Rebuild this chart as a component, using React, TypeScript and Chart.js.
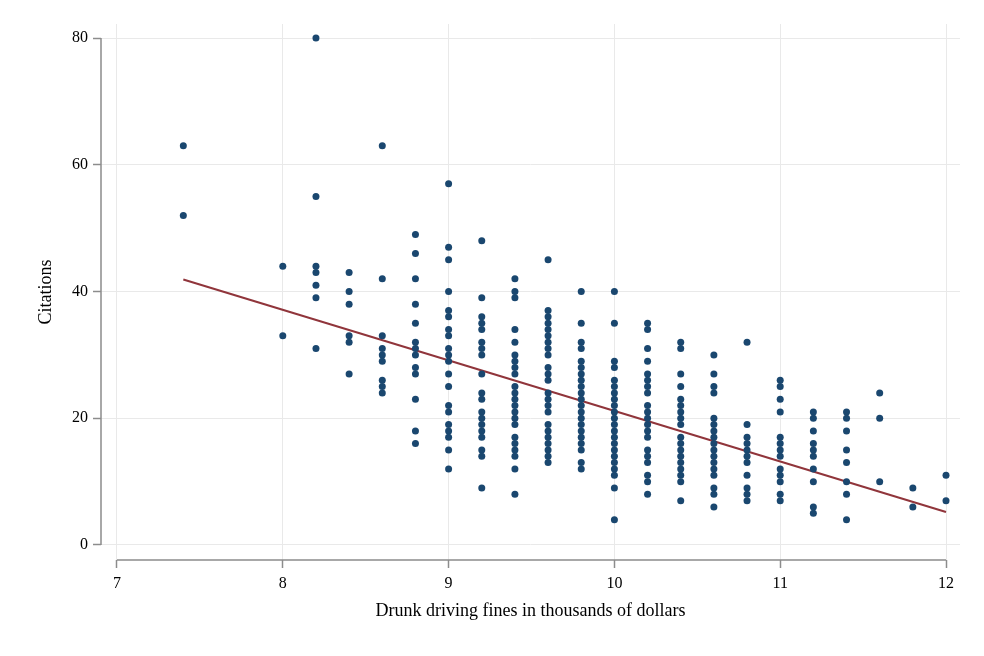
import React, { useEffect, useRef } from "react";
import { Chart, registerables } from "chart.js";

Chart.register(...registerables);

// Drunk driving fine levels (thousands of dollars)
const fineLevels = [7.4, 8.0, 8.2, 8.4, 8.6, 8.8, 9.0, 9.2, 9.4, 9.6, 9.8, 10.0, 10.2, 10.4, 10.6, 10.8, 11.0, 11.2, 11.4, 11.6, 11.8, 12.0];

// Citations observed at each fine level (same order as fineLevels)
const citations74 = [63, 52];
const citations80 = [44, 33];
const citations82 = [80, 55, 44, 43, 41, 39, 31];
const citations84 = [43, 40, 38, 33, 32, 27];
const citations86 = [63, 42, 33, 31, 30, 29, 26, 25, 24];
const citations88 = [49, 46, 42, 38, 35, 32, 31, 30, 28, 27, 23, 18, 16];
const citations90 = [57, 47, 45, 40, 37, 36, 34, 33, 31, 30, 29, 27, 25, 22, 21, 19, 18, 17, 15, 12];
const citations92 = [48, 39, 36, 35, 34, 32, 31, 30, 27, 24, 23, 21, 20, 19, 18, 17, 15, 14, 9];
const citations94 = [42, 40, 39, 34, 32, 30, 29, 28, 27, 25, 24, 23, 22, 21, 20, 19, 17, 16, 15, 14, 12, 8];
const citations96 = [45, 37, 36, 35, 34, 33, 32, 31, 30, 28, 27, 26, 24, 23, 22, 21, 19, 18, 17, 16, 15, 14, 13];
const citations98 = [40, 35, 32, 31, 29, 28, 27, 26, 25, 24, 23, 22, 21, 20, 19, 18, 17, 16, 15, 13, 12];
const citations100 = [40, 35, 29, 28, 26, 25, 24, 23, 22, 21, 20, 19, 18, 17, 16, 15, 14, 13, 12, 11, 9, 4];
const citations102 = [35, 34, 31, 29, 27, 26, 25, 24, 22, 21, 20, 19, 18, 17, 15, 14, 13, 11, 10, 8];
const citations104 = [32, 31, 27, 25, 23, 22, 21, 20, 19, 17, 16, 15, 14, 13, 12, 11, 10, 7];
const citations106 = [30, 27, 25, 24, 20, 19, 18, 17, 16, 15, 14, 13, 12, 11, 9, 8, 6];
const citations108 = [32, 19, 17, 16, 15, 14, 13, 11, 9, 8, 7];
const citations110 = [26, 25, 23, 21, 17, 16, 15, 14, 12, 11, 10, 8, 7];
const citations112 = [21, 20, 18, 16, 15, 14, 12, 10, 6, 5];
const citations114 = [21, 20, 18, 15, 13, 10, 8, 4];
const citations116 = [24, 20, 10];
const citations118 = [9, 6];
const citations120 = [11, 7];

const citationsByFine = [
  citations74, citations80, citations82, citations84, citations86, citations88,
  citations90, citations92, citations94, citations96, citations98, citations100,
  citations102, citations104, citations106, citations108, citations110, citations112,
  citations114, citations116, citations118, citations120,
];

// Fitted line endpoints
const fitX = [7.4, 12.0];
const fitY = [41.9, 5.2];

// Tick labels
const xTicks = [7, 8, 9, 10, 11, 12];
const yTicks = [0, 20, 40, 60, 80];

const SERIF = "'Liberation Serif', 'Times New Roman', serif";
const AXIS_COLOR = "#8c8c8c";
const GRID_COLOR = "#e9e9e9";

const axisLinesPlugin = {
  id: "axisLines",
  beforeDatasetsDraw(chart: any) {
    const { ctx, chartArea, scales } = chart;
    const x = scales.x;
    const y = scales.y;
    ctx.save();
    ctx.strokeStyle = AXIS_COLOR;
    ctx.lineWidth = 1.5;
    ctx.beginPath();
    ctx.moveTo(chartArea.left, y.getPixelForValue(yTicks[0]));
    ctx.lineTo(chartArea.left, y.getPixelForValue(yTicks[yTicks.length - 1]));
    ctx.moveTo(x.getPixelForValue(xTicks[0]), chartArea.bottom);
    ctx.lineTo(x.getPixelForValue(xTicks[xTicks.length - 1]), chartArea.bottom);
    ctx.stroke();
    ctx.restore();
  },
};

export default function App() {
  const canvasRef = useRef<HTMLCanvasElement | null>(null);

  useEffect(() => {
    const canvas = canvasRef.current;
    if (!canvas) return;

    const points: { x: number; y: number }[] = [];
    fineLevels.forEach((f, i) => {
      citationsByFine[i].forEach((c) => points.push({ x: f, y: c }));
    });
    const fitPoints = fitX.map((xv, i) => ({ x: xv, y: fitY[i] }));

    const chart = new Chart(canvas, {
      type: "scatter",
      data: {
        datasets: [
          {
            type: "line",
            label: "Fitted values",
            data: fitPoints,
            borderColor: "#90353b",
            borderWidth: 2,
            pointRadius: 0,
            fill: false,
            order: 2,
          } as any,
          {
            label: "Citations",
            data: points,
            backgroundColor: "#1a476f",
            borderColor: "#1a476f",
            borderWidth: 0,
            pointRadius: 3.5,
            pointHoverRadius: 3.5,
            order: 1,
          },
        ],
      },
      options: {
        animation: false,
        responsive: false,
        maintainAspectRatio: false,
        layout: { padding: { top: 24, right: 24, left: 0, bottom: 0 } },
        plugins: {
          legend: { display: false },
          tooltip: { enabled: false },
        },
        scales: {
          x: {
            type: "linear",
            min: 6.9035,
            max: 12.0844,
            afterBuildTicks: (scale: any) => {
              scale.ticks = xTicks.map((v) => ({ value: v }));
            },
            afterFit: (scale: any) => {
              scale.height = 96;
            },
            border: { display: false },
            grid: {
              color: GRID_COLOR,
              lineWidth: 1,
              drawTicks: true,
              tickLength: 8,
              tickColor: AXIS_COLOR,
              tickWidth: 1.5,
            },
            ticks: {
              autoSkip: false,
              maxRotation: 0,
              padding: 6,
              color: "#000",
              font: { family: SERIF, size: 16 },
              callback: (v: any) => String(v),
            },
            title: {
              display: true,
              text: "Drunk driving fines in thousands of dollars",
              color: "#000",
              font: { family: SERIF, size: 18 },
              padding: { top: 0, bottom: 34 },
            },
          },
          y: {
            type: "linear",
            min: -2.367,
            max: 82.21,
            afterBuildTicks: (scale: any) => {
              scale.ticks = yTicks.map((v) => ({ value: v }));
            },
            afterFit: (scale: any) => {
              scale.width = 101;
            },
            border: { display: false },
            grid: {
              color: GRID_COLOR,
              lineWidth: 1,
              drawTicks: true,
              tickLength: 8,
              tickColor: AXIS_COLOR,
              tickWidth: 1.5,
            },
            ticks: {
              autoSkip: false,
              padding: 5,
              color: "#000",
              font: { family: SERIF, size: 16 },
              callback: (v: any) => String(v),
            },
            title: {
              display: true,
              text: "Citations",
              color: "#000",
              font: { family: SERIF, size: 18 },
              padding: { top: 35, bottom: 0 },
            },
          },
        },
      },
      plugins: [axisLinesPlugin],
    });

    return () => {
      chart.destroy();
    };
  }, []);

  return (
    <div style={{ position: "absolute", left: 0, top: 0, width: 984, height: 656, background: "#fff" }}>
      <canvas ref={canvasRef} width={984} height={656} style={{ display: "block" }} />
    </div>
  );
}
